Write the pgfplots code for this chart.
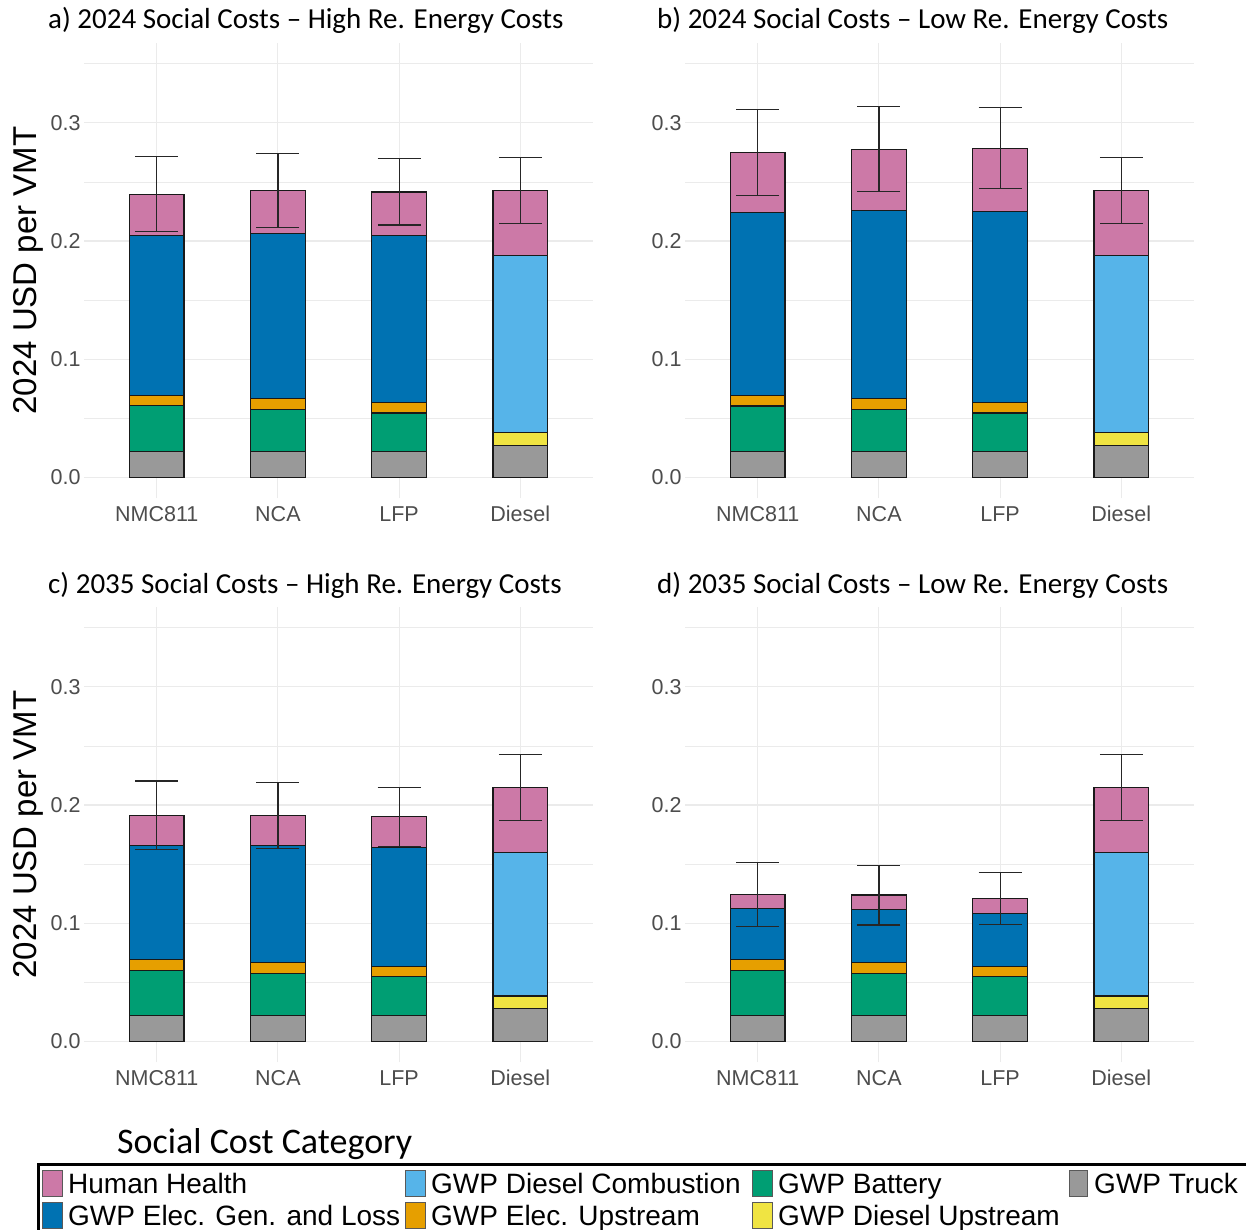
\documentclass[border=0pt]{standalone}
\usepackage{fontspec}
\setmainfont{Liberation Sans}
\newfontfamily\calfont{Carlito}
\usepackage{pgfplots}
\pgfplotsset{compat=1.18}
\definecolor{hh}{HTML}{CC79A7}
\definecolor{egen}{HTML}{0072B2}
\definecolor{dcomb}{HTML}{56B4E9}
\definecolor{eup}{HTML}{E69F00}
\definecolor{batt}{HTML}{009E73}
\definecolor{dup}{HTML}{F0E442}
\definecolor{truck}{HTML}{999999}
\definecolor{tickgray}{HTML}{4D4D4D}
\definecolor{gridgray}{HTML}{EBEBEB}
\pgfplotsset{
  panel/.style={
    scale only axis, width=509pt, height=455pt,
    xmin=0.4, xmax=4.6, ymin=-0.0175, ymax=0.3675,
    ybar, bar width=0.45, bar shift=0pt,
    xtick={1,2,3,4}, xticklabels={NMC811,NCA,LFP,Diesel},
    ytick={0,0.1,0.2,0.3}, yticklabels={0.0,0.1,0.2,0.3},
    minor ytick={0.05,0.15,0.25,0.35},
    grid=both,
    major grid style={draw=gridgray, line width=1.1pt},
    minor grid style={draw=gridgray, line width=0.55pt},
    axis line style={draw=none},
    tick style={draw=none},
    ticklabel style={font=\fontsize{21.5}{24}\selectfont, text=tickgray},
    xticklabel style={text height=15.5pt, text depth=4pt},
    /pgf/number format/assume math mode=true,
    ylabel style={font=\fontsize{33}{36}\selectfont, text=black, at={(axis description cs:-0.110,0.5)}, anchor=center},
  },
  seg/.style={fill=#1, draw=black!90, line width=1.2pt, bar shift=0pt},
  errb/.style={sharp plot, draw=none, mark=none, forget plot,
    error bars/.cd, y dir=both, y explicit,
    error bar style={line width=1.2pt, draw=black!85},
    error mark options={line width=1.2pt, draw=black!85, mark size=21.5pt, rotate=90}},
}
\begin{document}
\begin{tikzpicture}
\useasboundingbox (0,0) rectangle (1246pt,-1229pt);
\fill[white] (0,0) rectangle (1246pt,-1229pt);
% ---------- a ----------
\begin{axis}[panel, at={(84pt,-498pt)}, anchor=south west, ylabel={2024 USD per VMT}]
\addplot[seg=hh] coordinates {(1,0.2395) (2,0.2427) (3,0.2415) (4,0.2427)};
\addplot[seg=egen] coordinates {(1,0.2045) (2,0.2062) (3,0.2048)};
\addplot[seg=dcomb] coordinates {(4,0.1876)};
\addplot[seg=eup] coordinates {(1,0.0689) (2,0.0664) (3,0.0636)};
\addplot[seg=dup] coordinates {(4,0.0381)};
\addplot[seg=batt] coordinates {(1,0.0605) (2,0.0571) (3,0.0545)};
\addplot[seg=truck] coordinates {(1,0.0218) (2,0.0218) (3,0.0218) (4,0.0271)};
\addplot[errb] coordinates {(1,0.2395) +- (0,0.0318) (2,0.2427) +- (0,0.0310) (3,0.2415) +- (0,0.0280) (4,0.2427) +- (0,0.0278)};
\end{axis}
% ---------- b ----------
\begin{axis}[panel, at={(685pt,-498pt)}, anchor=south west]
\addplot[seg=hh] coordinates {(1,0.2751) (2,0.2774) (3,0.2785) (4,0.2427)};
\addplot[seg=egen] coordinates {(1,0.2243) (2,0.2260) (3,0.2251)};
\addplot[seg=dcomb] coordinates {(4,0.1876)};
\addplot[seg=eup] coordinates {(1,0.0689) (2,0.0664) (3,0.0634)};
\addplot[seg=dup] coordinates {(4,0.0382)};
\addplot[seg=batt] coordinates {(1,0.0603) (2,0.0572) (3,0.0545)};
\addplot[seg=truck] coordinates {(1,0.0218) (2,0.0218) (3,0.0218) (4,0.0272)};
\addplot[errb] coordinates {(1,0.2749) +- (0,0.0365) (2,0.2776) +- (0,0.0360) (3,0.2787) +- (0,0.0344) (4,0.2427) +- (0,0.0278)};
\end{axis}
% ---------- c ----------
\begin{axis}[panel, at={(84pt,-1062pt)}, anchor=south west, ylabel={2024 USD per VMT}]
\addplot[seg=hh] coordinates {(1,0.1914) (2,0.1914) (3,0.1900) (4,0.2148)};
\addplot[seg=egen] coordinates {(1,0.1660) (2,0.1657) (3,0.1637)};
\addplot[seg=dcomb] coordinates {(4,0.1595)};
\addplot[seg=eup] coordinates {(1,0.0691) (2,0.0665) (3,0.0636)};
\addplot[seg=dup] coordinates {(4,0.0383)};
\addplot[seg=batt] coordinates {(1,0.0602) (2,0.0574) (3,0.0546)};
\addplot[seg=truck] coordinates {(1,0.0218) (2,0.0218) (3,0.0218) (4,0.0275)};
\addplot[errb] coordinates {(1,0.1911) +- (0,0.0291) (2,0.1910) +- (0,0.0280) (3,0.1897) +- (0,0.0251) (4,0.2146) +- (0,0.0278)};
\end{axis}
% ---------- d ----------
\begin{axis}[panel, at={(685pt,-1062pt)}, anchor=south west]
\addplot[seg=hh] coordinates {(1,0.1242) (2,0.1239) (3,0.1208) (4,0.2148)};
\addplot[seg=egen] coordinates {(1,0.1121) (2,0.1115) (3,0.1084)};
\addplot[seg=dcomb] coordinates {(4,0.1595)};
\addplot[seg=eup] coordinates {(1,0.0691) (2,0.0665) (3,0.0636)};
\addplot[seg=dup] coordinates {(4,0.0383)};
\addplot[seg=batt] coordinates {(1,0.0602) (2,0.0574) (3,0.0546)};
\addplot[seg=truck] coordinates {(1,0.0218) (2,0.0218) (3,0.0218) (4,0.0275)};
\addplot[errb] coordinates {(1,0.1242) +- (0,0.0268) (2,0.1238) +- (0,0.0253) (3,0.1211) +- (0,0.0220) (4,0.2146) +- (0,0.0278)};
\end{axis}
% ---------- titles ----------
\begin{scope}[every node/.style={anchor=base west, inner sep=0pt, font=\calfont\fontsize{29}{32}\selectfont}]
\node at (48pt,-28pt) {a) 2024 Social Costs – High Re. Energy Costs};
\node at (657pt,-28pt) {b) 2024 Social Costs – Low Re. Energy Costs};
\node at (48pt,-593pt) {c) 2035 Social Costs – High Re. Energy Costs};
\node at (657pt,-593pt) {d) 2035 Social Costs – Low Re. Energy Costs};
\end{scope}
% ---------- legend ----------
\node[anchor=base west, inner sep=0pt, font=\calfont\fontsize{36}{40}\selectfont] at (117pt,-1153pt) {Social Cost Category};
\draw[line width=3pt] (38pt,-1164pt) rectangle (1262pt,-1245pt);
\begin{scope}[every node/.style={anchor=base west, inner sep=0pt, font=\fontsize{28}{30}\selectfont}]
\draw[draw=black!65, line width=1pt, fill=hh] (42pt,-1170pt) rectangle (62pt,-1196pt);
\node at (68pt,-1193pt) {Human Health};
\draw[draw=black!65, line width=1pt, fill=dcomb] (405pt,-1170pt) rectangle (425pt,-1196pt);
\node at (431pt,-1193pt) {GWP Diesel Combustion};
\draw[draw=black!65, line width=1pt, fill=batt] (752pt,-1170pt) rectangle (772pt,-1196pt);
\node at (778pt,-1193pt) {GWP Battery};
\draw[draw=black!65, line width=1pt, fill=truck] (1069pt,-1170pt) rectangle (1087pt,-1196pt);
\node at (1094pt,-1193pt) {GWP Truck};
\draw[draw=black!65, line width=1pt, fill=egen] (42pt,-1202pt) rectangle (62pt,-1228pt);
\node at (68pt,-1225pt) {GWP Elec. Gen. and Loss};
\draw[draw=black!65, line width=1pt, fill=eup] (405pt,-1202pt) rectangle (425pt,-1228pt);
\node at (431pt,-1225pt) {GWP Elec. Upstream};
\draw[draw=black!65, line width=1pt, fill=dup] (752pt,-1202pt) rectangle (772pt,-1228pt);
\node at (778pt,-1225pt) {GWP Diesel Upstream};
\end{scope}
\end{tikzpicture}
\end{document}
